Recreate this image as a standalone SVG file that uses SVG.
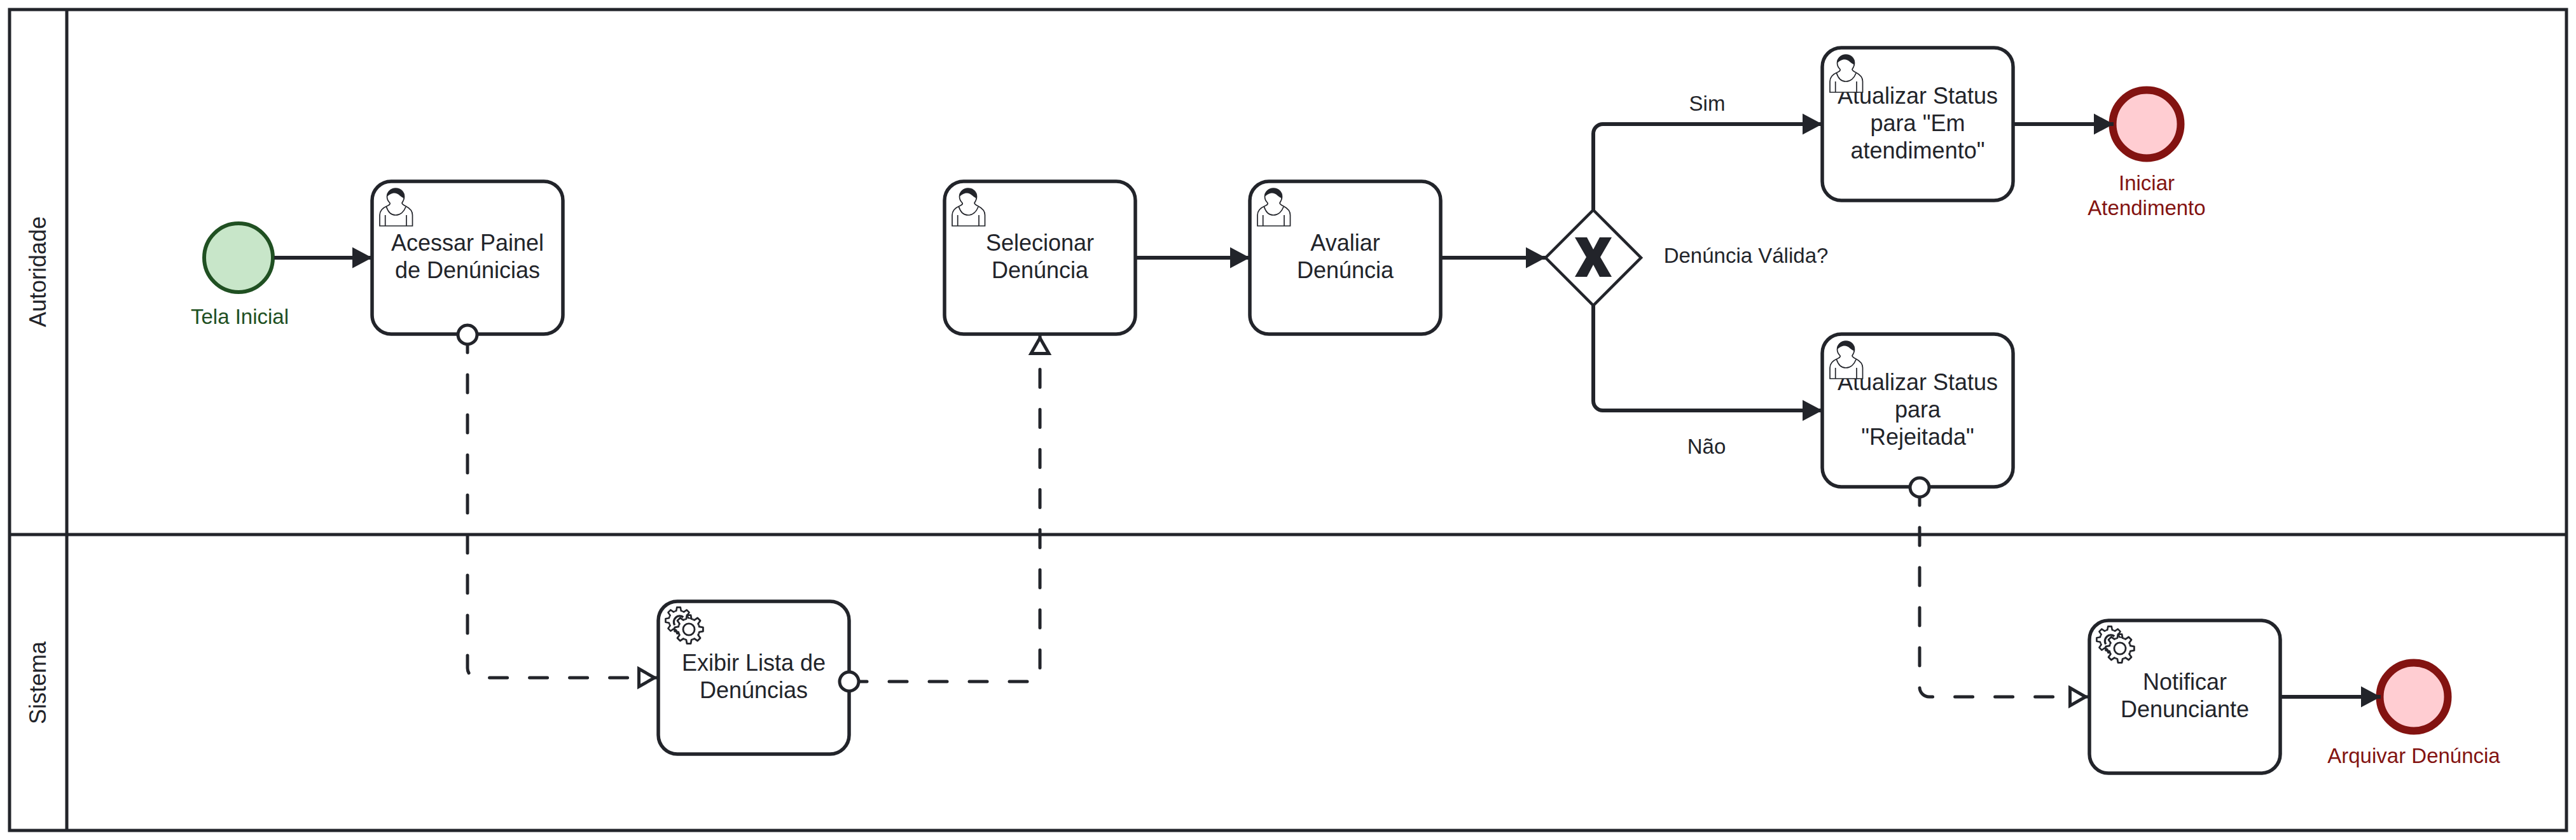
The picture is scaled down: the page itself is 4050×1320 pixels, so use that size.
<svg xmlns="http://www.w3.org/2000/svg" width="4050" height="1320" viewBox="0 0 4050 1320">
<style>
text{font-family:"Liberation Sans",Arial,sans-serif;font-size:36px;fill:#22242a;text-anchor:middle}
.lbl{font-size:33px}
.grn{font-size:33px;fill:#205022}
.red{font-size:33px;fill:#831311}
.lane{fill:none;stroke:#22242a;stroke-width:5}
.task{fill:#fff;stroke:#22242a;stroke-width:5.500}
.start{fill:#c8e6c9;stroke:#205022;stroke-width:6}
.end{fill:#ffcdd2;stroke:#831311;stroke-width:12}
.gw{fill:#fff;stroke:#22242a;stroke-width:4.500;stroke-linejoin:miter}
.flow{fill:none;stroke:#22242a;stroke-width:6;marker-end:url(#arrow)}
.msg{fill:none;stroke:#22242a;stroke-width:5;stroke-linecap:round;stroke-dasharray:28 35;marker-start:url(#origin);marker-end:url(#open)}
.ic{fill:#fff;stroke:#22242a;stroke-width:1.700}
.icl{fill:none;stroke:#22242a;stroke-width:1.700}
.gear{fill:none;stroke:#22242a;stroke-width:2.500;stroke-linejoin:round}
</style>
<defs>
<marker id="arrow" markerUnits="userSpaceOnUse" markerWidth="40" markerHeight="40" refX="31" refY="16.5" orient="auto" overflow="visible"><path d="M0 0L31 16.5L0 33Z" fill="#22242a"/></marker>
<marker id="open" markerUnits="userSpaceOnUse" markerWidth="44" markerHeight="44" refX="33" refY="16" orient="auto" overflow="visible"><path d="M4.500 2L29 16L4.500 30Z" fill="#fff" stroke="#22242a" stroke-width="5" stroke-dasharray="none"/></marker>
<marker id="origin" markerUnits="userSpaceOnUse" markerWidth="44" markerHeight="44" refX="22" refY="22" orient="auto" overflow="visible"><circle cx="22" cy="22" r="15" fill="#fff" stroke="#22242a" stroke-width="5" stroke-dasharray="none"/></marker>
<g id="user">
<path class="ic" d="M16 23C17 25 15 26 11 28C4 31 0 35 0 42V59H51.500V42C51.500 35 47 31 41 28C37 26 35 25 35 23C37 20 38.500 17 38.500 13C38.500 6 33 0 25 0C18 0 11.500 6 11.500 13C11.500 17 13 20 16 23Z"/>
<path class="icl" d="M10.500 29C13 37 18 42 25 42C32 42 38 37 41 29"/>
<path class="icl" d="M8.700 42V59M42 42V59"/>
<path d="M11.500 13C11.500 4 18 0 25 0C33 0 38.500 6 38.500 15.500C33 14 30 8 24 7.500C19 7 15 10 11.500 13Z" fill="#22242a"/>
</g>
<path id="seg" d="M-5.700 -13.900L-3.600 -14.600L-2.700 -19.800H2.700L3.600 -14.600L5.700 -13.900"/>
<g id="gearshape">
<circle r="14.500" fill="#fff" stroke="none"/>
<use href="#seg"/><use href="#seg" transform="rotate(45)"/><use href="#seg" transform="rotate(90)"/><use href="#seg" transform="rotate(135)"/><use href="#seg" transform="rotate(180)"/><use href="#seg" transform="rotate(225)"/><use href="#seg" transform="rotate(270)"/><use href="#seg" transform="rotate(315)"/>
</g>
<g id="gears">
<g class="gear" transform="translate(32 30) scale(1.040)"><use href="#gearshape"/><path d="M-6 7A9 9 0 0 1 7 -5" stroke-width="3.200"/></g>
<g class="gear" transform="translate(48 44) scale(1.130)"><use href="#gearshape"/><circle r="8" fill="#fff"/></g>
</g>
</defs>
<rect x="0" y="0" width="4050" height="1320" fill="#fff"/>
<g id="pool">
<rect class="lane" x="15" y="15" width="4020" height="1290"/>
<path class="lane" d="M105 15V1305M15 840H4035"/>
<text transform="translate(72 427) rotate(-90)">Autoridade</text>
<text transform="translate(72 1073) rotate(-90)">Sistema</text>
</g>
<g id="start-tela-inicial">
<circle class="start" cx="375" cy="405" r="54"/>
<text class="grn" x="377" y="509">Tela Inicial</text>
</g>
<g id="task-acessar-painel">
<rect class="task" x="585" y="285" width="300" height="240" rx="30"/>
<use href="#user" x="597" y="296"/>
<text x="735" y="394">Acessar Painel</text>
<text x="735" y="437">de Denúnicias</text>
</g>
<g id="task-selecionar">
<rect class="task" x="1485" y="285" width="300" height="240" rx="30"/>
<use href="#user" x="1497" y="296"/>
<text x="1635" y="394">Selecionar</text>
<text x="1635" y="437">Denúncia</text>
</g>
<g id="task-avaliar">
<rect class="task" x="1965" y="285" width="300" height="240" rx="30"/>
<use href="#user" x="1977" y="296"/>
<text x="2115" y="394">Avaliar</text>
<text x="2115" y="437">Denúncia</text>
</g>
<g id="gateway-valida">
<path class="gw" d="M2505 330L2580 405L2505 480L2430 405Z"/>
<path d="M2476 373H2495L2505 392L2515 373H2534L2516 404L2534 435H2515L2505 416L2495 435H2476L2494 404Z" fill="#22242a"/>
<text class="lbl" x="2745" y="413">Denúncia Válida?</text>
</g>
<g id="task-atualizar-em-atendimento">
<rect class="task" x="2865" y="75" width="300" height="240" rx="30"/>
<text x="3015" y="163">Atualizar Status</text>
<text x="3015" y="206">para "Em</text>
<text x="3015" y="249">atendimento"</text>
<use href="#user" x="2877" y="86"/>
</g>
<g id="task-atualizar-rejeitada">
<rect class="task" x="2865" y="525" width="300" height="240" rx="30"/>
<text x="3015" y="613">Atualizar Status</text>
<text x="3015" y="656">para</text>
<text x="3015" y="699">"Rejeitada"</text>
<use href="#user" x="2877" y="536"/>
</g>
<g id="end-iniciar-atendimento">
<circle class="end" cx="3375" cy="195" r="53.500"/>
<text class="red" x="3375" y="299">Iniciar</text>
<text class="red" x="3375" y="338">Atendimento</text>
</g>
<g id="task-exibir-lista">
<rect class="task" x="1035" y="945" width="300" height="240" rx="30"/>
<use href="#gears" x="1035" y="945"/>
<text x="1185" y="1054">Exibir Lista de</text>
<text x="1185" y="1097">Denúncias</text>
</g>
<g id="task-notificar">
<rect class="task" x="3285" y="975" width="300" height="240" rx="30"/>
<use href="#gears" x="3285" y="975"/>
<text x="3435" y="1084">Notificar</text>
<text x="3435" y="1127">Denunciante</text>
</g>
<g id="end-arquivar">
<circle class="end" cx="3795" cy="1095" r="53.500"/>
<text class="red" x="3795" y="1199">Arquivar Denúncia</text>
</g>
<g id="connectors">
<path class="flow" d="M431 405H585"/>
<path class="flow" d="M1785 405H1965"/>
<path class="flow" d="M2265 405H2430"/>
<path class="flow" d="M2505 330V210A15 15 0 0 1 2520 195H2865"/>
<path class="flow" d="M2505 480V630A15 15 0 0 0 2520 645H2865"/>
<path class="flow" d="M3165 195H3323"/>
<path class="flow" d="M3585 1095H3743"/>
<path class="msg" d="M735 526V1050A15 15 0 0 0 750 1065H1033"/>
<path class="msg" d="M1335 1071H1620A15 15 0 0 0 1635 1056V527"/>
<path class="msg" d="M3018 766V1080A15 15 0 0 0 3033 1095H3283"/>
<text class="lbl" x="2684" y="174">Sim</text>
<text class="lbl" x="2683" y="713">Não</text>
</g>
</svg>
